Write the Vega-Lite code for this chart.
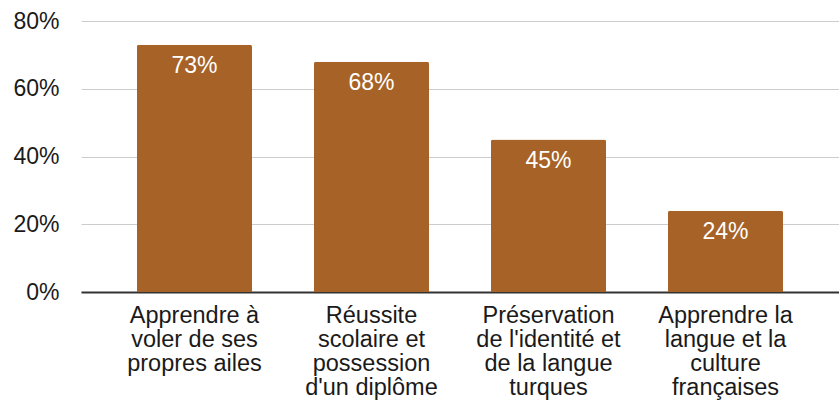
{
  "$schema": "https://vega.github.io/schema/vega-lite/v6.json",
  "autosize": "none",
  "width": 767,
  "height": 271,
  "padding": {"left": 72, "top": 21, "right": 0, "bottom": 109},
  "background": "white",
  "data": {
    "values": [
      {"cat": "Apprendre à|voler de ses|propres ailes", "value": 0.73},
      {"cat": "Réussite|scolaire et|possession|d'un diplôme", "value": 0.68},
      {"cat": "Préservation|de l'identité et|de la langue|turques", "value": 0.45},
      {"cat": "Apprendre la|langue et la|culture|françaises", "value": 0.24}
    ]
  },
  "encoding": {
    "x": {
      "field": "cat",
      "type": "nominal",
      "sort": null,
      "scale": {"range": [9, 767], "paddingInner": 0.35, "paddingOuter": 0.316},
      "axis": {
        "title": null,
        "labelAngle": 0,
        "labelExpr": "split(datum.label, '|')",
        "labelFont": "Liberation Sans",
        "labelFontSize": 23.5,
        "labelLineHeight": 24,
        "labelColor": "#1a1a1a",
        "labelPadding": 11,
        "labelBaseline": "top",
        "labelLimit": 300,
        "ticks": false,
        "domainColor": "#333333",
        "domainWidth": 2,
        "grid": false
      }
    },
    "y": {
      "field": "value",
      "type": "quantitative",
      "scale": {"domain": [0, 0.8]},
      "axis": {
        "title": null,
        "values": [0, 0.2, 0.4, 0.6, 0.8],
        "format": ".0%",
        "labelFont": "Liberation Sans",
        "labelFontSize": 23,
        "labelColor": "#1a1a1a",
        "labelPadding": 13,
        "ticks": false,
        "domain": false,
        "grid": true,
        "gridColor": "#cccccc",
        "gridWidth": 1
      }
    }
  },
  "layer": [
    {
      "mark": {"type": "bar", "color": "#a66227", "cornerRadiusTopLeft": 2, "cornerRadiusTopRight": 2}
    },
    {
      "mark": {"type": "text", "color": "white", "font": "Liberation Sans", "fontSize": 23, "baseline": "top", "dy": 10},
      "encoding": {
        "text": {"field": "value", "type": "quantitative", "format": ".0%"}
      }
    }
  ],
  "config": {"view": {"stroke": null}}
}
